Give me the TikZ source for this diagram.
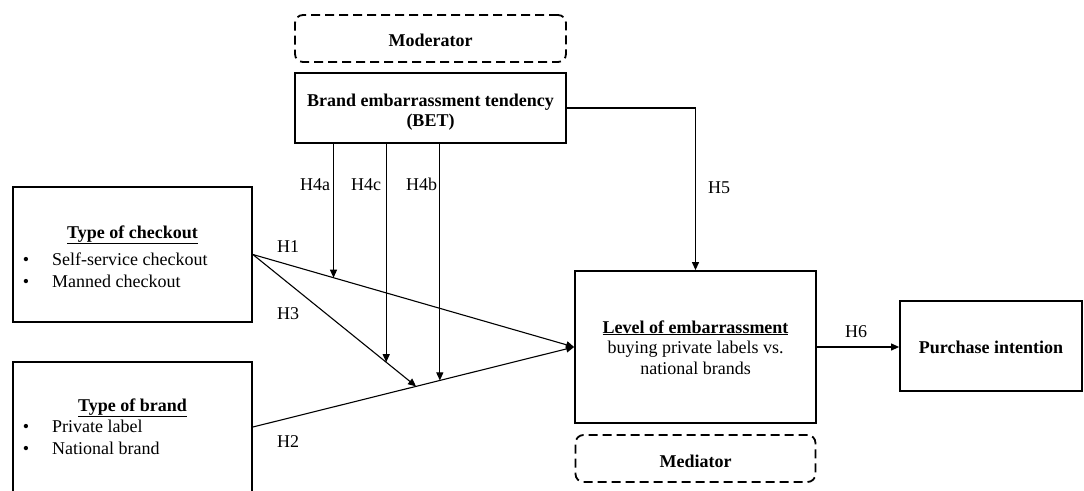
\documentclass[tikz,border=0pt]{standalone}
\usepackage{fontspec}
\setmainfont{Liberation Serif}
\usetikzlibrary{arrows.meta,calc}
\begin{document}
\begin{tikzpicture}[x=1pt,y=-1pt,
  box/.style={draw,line width=1.8pt,inner sep=0pt},
  dbox/.style={draw,line width=1.8pt,dash pattern=on 9pt off 5pt,rounded corners=8pt,inner sep=0pt},
  conn/.style={line width=1.1pt,-{Triangle[length=8pt,width=7pt]}},
  txt/.style={font=\fontsize{18}{21.5}\selectfont,inner sep=0pt,anchor=base},
  lbl/.style={font=\fontsize{18}{21.5}\selectfont,inner sep=0pt,anchor=base west}]
\useasboundingbox (0,0) rectangle (1084,490);
\clip (0,0) rectangle (1084,490);

% boxes
\node[dbox,minimum width=271pt,minimum height=47pt] (moderator) at (430.5,38.5) {};
\node[box,minimum width=271pt,minimum height=70pt] (bet) at (430.5,108) {};
\node[box,minimum width=239pt,minimum height=135pt] (checkout) at (132.5,254.5) {};
\node[box,minimum width=239pt,minimum height=130pt] (brand) at (132.5,427) {};
\node[box,minimum width=241pt,minimum height=152pt] (level) at (695.5,347) {};
\node[dbox,minimum width=240pt,minimum height=47pt] (mediator) at (695.5,458.5) {};
\node[box,minimum width=182pt,minimum height=90pt] (purchase) at (991,346) {};

% texts
\node[txt] (tmod) at (430.5,46) {\textbf{Moderator}};
\node[txt] (tbet1) at (430.5,106) {\textbf{Brand embarrassment tendency}};
\node[txt] (tbet2) at (430.5,126) {\textbf{(BET)}};
\node[txt] (tchk) at (132.5,238) {\textbf{\underline{Type of checkout}}};
\node[txt] (bchk1) at (26,265) {•};
\node[lbl] (tchk1) at (52,265) {Self-service checkout};
\node[txt] (bchk2) at (26,287) {•};
\node[lbl] (tchk2) at (52,287) {Manned checkout};
\node[txt] (tbr) at (132.5,411) {\textbf{\underline{Type of brand}}};
\node[txt] (bbr1) at (26,432) {•};
\node[lbl] (tbr1) at (52,432) {Private label};
\node[txt] (bbr2) at (26,454) {•};
\node[lbl] (tbr2) at (52,454) {National brand};
\node[txt] (tlev1) at (695.5,333) {\textbf{\underline{Level of embarrassment}}};
\node[txt] (tlev2) at (695.5,353) {buying private labels vs.};
\node[txt] (tlev3) at (695.5,374) {national brands};
\node[txt] (tmed) at (695.5,467) {\textbf{Mediator}};
\node[txt] (tpur) at (991,353) {\textbf{Purchase intention}};

% hypothesis labels
\node[lbl] (h4a) at (300,190) {H4a};
\node[lbl] (h4c) at (351,190) {H4c};
\node[lbl] (h4b) at (406,190) {H4b};
\node[lbl] (h1) at (277,252) {H1};
\node[lbl] (h3) at (277,319) {H3};
\node[lbl] (h2) at (277,447) {H2};
\node[lbl] (h5) at (708,193) {H5};
\node[lbl] (h6) at (845,337) {H6};

% helper points
\coordinate (h3end) at ($(brand.east)!0.508!(level.west)$);
\coordinate (a4) at ($(checkout.east)!0.251!(level.west)$);
\coordinate (c4) at ($(checkout.east)!0.817!(h3end)$);
\coordinate (b4) at ($(brand.east)!0.582!(level.west)$);

% connectors
\draw[conn] (checkout.east) -- (level.west);
\draw[conn] (brand.east) -- (level.west);
\draw[conn] (checkout.east) -- (h3end);
\draw[conn] (bet.south -| a4) -- (a4);
\draw[conn] (bet.south -| c4) -- (c4);
\draw[conn] (bet.south -| b4) -- (b4);
\draw[conn] (bet.east) -| (level.north);
\draw[conn] (level.east) -- (level.east -| purchase.west);
\end{tikzpicture}
\end{document}
